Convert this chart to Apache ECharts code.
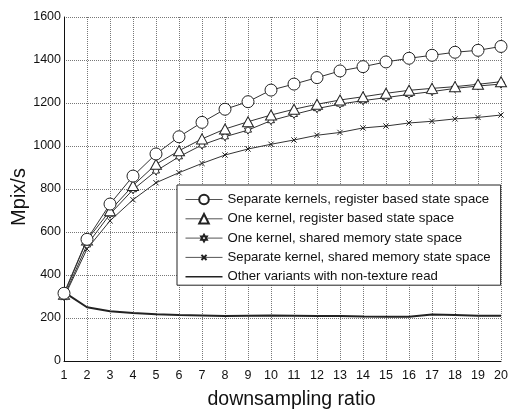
<!DOCTYPE html>
<html>
<head>
<meta charset="utf-8">
<script src="https://cdn.jsdelivr.net/npm/echarts@6/dist/echarts.min.js"></script>
<style>
  html, body { margin: 0; padding: 0; background: #fff; }
  #main { width: 509px; height: 409px; }
</style>
</head>
<body>
<div id="main"></div>
<script>
const ratios = [1, 2, 3, 4, 5, 6, 7, 8, 9, 10, 11, 12, 13, 14, 15, 16, 17, 18, 19, 20];

const separateRegister = [315, 566, 730, 860, 963, 1043, 1110, 1171, 1206, 1260, 1288, 1318, 1349, 1369, 1391, 1408, 1422, 1436, 1445, 1463];
const oneRegister = [310, 563, 699, 816, 915, 978, 1033, 1079, 1113, 1144, 1171, 1194, 1214, 1229, 1245, 1259, 1268, 1276, 1287, 1299];
const oneShared = [300, 540, 683, 797, 884, 950, 1005, 1043, 1074, 1118, 1147, 1174, 1195, 1211, 1225, 1240, 1253, 1268, 1279, 1288];
const separateShared = [295, 521, 652, 750, 829, 876, 919, 958, 986, 1008, 1028, 1050, 1063, 1084, 1093, 1107, 1115, 1126, 1133, 1144];
const otherVariants = [320, 250, 231, 223, 217, 214, 212, 209, 211, 212, 211, 209, 209, 207, 206, 206, 216, 214, 211, 211];

const seriesNames = [
  'Separate kernels, register based state space',
  'One kernel, register based state space',
  'One kernel, shared memory state space',
  'Separate kernel, shared memory state space',
  'Other variants with non-texture read'
];

// the empty moveTo points pad the bounding box so the legend icons come out smaller
const starPath = 'path://M-2.3,-2.3M12.3,12.3M5,0L6.44,2.5L9.33,2.5L7.89,5L9.33,7.5L6.44,7.5L5,10L3.56,7.5L0.67,7.5L2.11,5L0.67,2.5L3.56,2.5Z';
const crossPath = 'path://M-4.5,-4.5M14.5,14.5M0,0L10,10M10,0L0,10';
const plainLineIcon = 'path://M0,0M0,5.3L37,5.3L37,6.9L0,6.9ZM0,12';

function pairs(vals) {
  return ratios.map((r, i) => [r, vals[i]]);
}

const markerStyle = { color: '#fff', borderColor: '#222', borderWidth: 1 };
const lineStyle = { color: '#333', width: 1 };

const chart = echarts.init(document.getElementById('main'));
chart.setOption({
  animation: false,
  textStyle: { fontFamily: 'Liberation Sans, Arial, sans-serif' },
  grid: { left: 64, right: 8, top: 17, bottom: 48, outerBoundsMode: 'none', containLabel: false },
  legend: {
    left: 177,
    top: 185,
    orient: 'vertical',
    backgroundColor: '#fff',
    borderColor: '#222',
    borderWidth: 1,
    borderRadius: 0,
    padding: [8, 10, 2, 8],
    itemWidth: 37,
    itemHeight: 12,
    itemGap: 6.3,
    lineStyle: { width: 1, color: '#555' },
    textStyle: { fontSize: 13.2, color: '#111' },
    data: [
      seriesNames[0],
      seriesNames[1],
      seriesNames[2],
      seriesNames[3],
      { name: seriesNames[4], icon: plainLineIcon }
    ]
  },
  xAxis: {
    type: 'value',
    min: 1,
    max: 20,
    interval: 1,
    name: 'downsampling ratio',
    nameLocation: 'middle',
    nameGap: 29,
    nameMoveOverlap: false,
    nameTextStyle: { fontSize: 19.5, color: '#111', padding: [0, 0, 0, 18] },
    axisLine: { lineStyle: { color: '#111', width: 1 } },
    axisTick: { show: false },
    axisLabel: { fontSize: 12.5, color: '#111', margin: 8 },
    splitLine: { show: true, lineStyle: { color: '#777', type: [1, 1], width: 1 } }
  },
  yAxis: {
    type: 'value',
    min: 0,
    max: 1600,
    interval: 200,
    name: 'Mpix/s',
    nameLocation: 'middle',
    nameGap: 35,
    nameMoveOverlap: false,
    nameTextStyle: { fontSize: 20, color: '#111', padding: [0, 16, 0, 0] },
    axisLine: { show: true, lineStyle: { color: '#111', width: 1 } },
    axisTick: { show: false },
    axisLabel: { fontSize: 12.5, color: '#111', margin: 3, formatter: v => String(v) },
    splitLine: { show: true, lineStyle: { color: '#777', type: [1, 1], width: 1 } }
  },
  series: [
    {
      name: seriesNames[0], type: 'line', data: pairs(separateRegister),
      symbol: 'circle', symbolSize: 12, showAllSymbol: true,
      itemStyle: markerStyle, lineStyle: lineStyle, z: 5
    },
    {
      name: seriesNames[1], type: 'line', data: pairs(oneRegister),
      symbol: 'triangle', symbolSize: [11, 10], showAllSymbol: true,
      itemStyle: markerStyle, lineStyle: lineStyle, z: 4
    },
    {
      name: seriesNames[2], type: 'line', data: pairs(oneShared),
      symbol: starPath, symbolSize: 12, showAllSymbol: true,
      itemStyle: markerStyle, lineStyle: lineStyle, z: 3
    },
    {
      name: seriesNames[3], type: 'line', data: pairs(separateShared),
      symbol: crossPath, symbolSize: 10, showAllSymbol: true,
      itemStyle: markerStyle, lineStyle: lineStyle, z: 2
    },
    {
      name: seriesNames[4], type: 'line', data: pairs(otherVariants),
      symbol: 'none', showSymbol: false,
      itemStyle: { color: '#222' },
      lineStyle: { color: '#222', width: 2 }, z: 1
    }
  ]
});
</script>
</body>
</html>
